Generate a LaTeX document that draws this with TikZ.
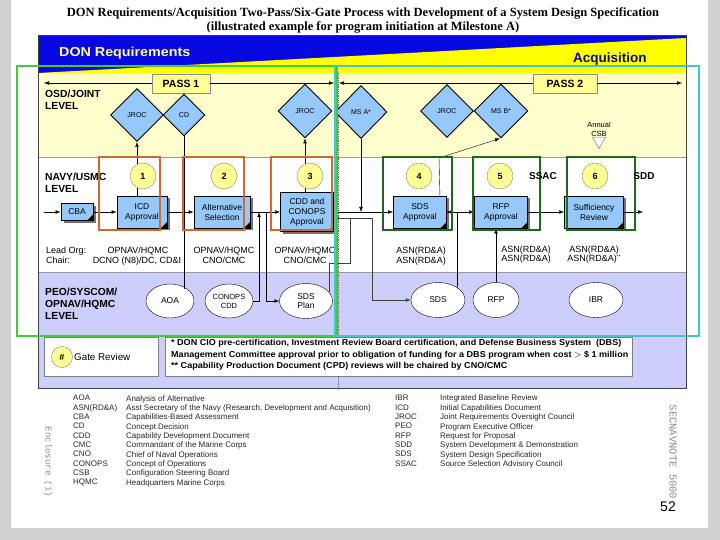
\documentclass[tikz,border=0pt]{standalone}
\usepackage{fontspec}
\setmainfont{Liberation Serif}
\setsansfont{Liberation Sans}
\setmonofont{Liberation Mono}
\usetikzlibrary{shapes.geometric,arrows.meta,shadows,calc}
\definecolor{bannerblue}{RGB}{8,8,225}
\definecolor{banneryellow}{RGB}{255,255,0}
\definecolor{osdyellow}{RGB}{255,255,206}
\definecolor{lav}{RGB}{206,206,250}
\definecolor{dblue}{RGB}{150,200,250}
\definecolor{gyellow}{RGB}{255,255,150}
\definecolor{gorange}{RGB}{205,105,50}
\definecolor{ggreen}{RGB}{30,105,30}
\definecolor{brgreen}{RGB}{60,205,60}
\definecolor{cyanbox}{RGB}{70,195,210}
\definecolor{navytxt}{RGB}{10,10,130}
\definecolor{paleytxt}{RGB}{255,255,150}
\begin{document}
\begin{tikzpicture}[x=1pt,y=-1pt,
  arr/.style={-{Latex[length=5pt,width=3.6pt]}},
  darr/.style={{Latex[length=5pt,width=3.6pt]}-{Latex[length=5pt,width=3.6pt]}},
  lvl/.style={font=\sffamily\bfseries\fontsize{10.3}{12.5}\selectfont, align=left, anchor=north west, inner sep=0pt},
  diam/.style={diamond, aspect=1, draw=black, line width=0.9pt, fill=dblue, inner sep=0pt, font=\sffamily\fontsize{7}{8}\selectfont},
  docbox/.style={rectangle, draw=black, line width=0.9pt, fill=dblue, inner sep=0pt, align=center,
     font=\sffamily\fontsize{8.5}{10}\selectfont,
     drop shadow={shadow xshift=2.5pt, shadow yshift=-2.5pt, fill=black!55, opacity=1},
     path picture={\fill[black] ([xshift=-6pt]path picture bounding box.south east) -- (path picture bounding box.south east) -- ([yshift=6pt]path picture bounding box.south east) -- cycle;}},
  gatec/.style={circle, draw=black!50, fill=gyellow, minimum size=26pt, inner sep=0pt, font=\sffamily\bfseries\fontsize{9}{10}\selectfont},
  ell/.style={ellipse, draw=black, fill=white, inner sep=0pt, align=center, font=\sffamily\fontsize{8.5}{9.5}\selectfont},
  orng/.style={draw=gorange, line width=2pt, inner sep=0pt},
  grn/.style={draw=ggreen, line width=2pt, inner sep=0pt},
  lbl/.style={font=\sffamily\fontsize{9}{10}\selectfont, inner sep=0pt, anchor=base},
  passbox/.style={draw=black!45, fill=gyellow, minimum height=19pt, inner sep=0pt, font=\sffamily\bfseries\fontsize{10.5}{12}\selectfont},
  gloss/.style={font=\sffamily\fontsize{8}{9.35}\selectfont, align=left, anchor=north west, inner sep=0pt, text=black!85}
]
\useasboundingbox (0,0) rectangle (720,540);
% page
\fill[black!18] (0,0) rectangle (720,540);
\fill[white] (11,0) rectangle (708,528);
% title
\node[font=\bfseries\fontsize{12.5}{14}\selectfont, inner sep=0pt] (title1) at (363,13) {DON Requirements/Acquisition Two-Pass/Six-Gate Process with Development of a System Design Specification};
\node[font=\bfseries\fontsize{12.5}{14}\selectfont, inner sep=0pt] (title2) at (363,27) {(illustrated example for program initiation at Milestone A)};
% banner and bands
\fill[bannerblue] (38,36) rectangle (686,73);
\fill[banneryellow] (38,73) -- (686,38) -- (686,73) -- cycle;
\fill[osdyellow] (38,73) rectangle (686,157);
\fill[white] (38,157) rectangle (686,272);
\fill[lav] (38,272) rectangle (686,388);
\draw[black!40] (38,157) -- (686,157);
\draw[black!40] (38,272) -- (686,272);
\draw[densely dotted, black!60, line width=0.8pt] (338,73) -- (338,388);
\node[font=\sffamily\bfseries\fontsize{13}{15}\selectfont, text=paleytxt, anchor=base west, inner sep=0pt, xscale=1.1] (donreq) at (59,57) {DON Requirements};
\node[font=\sffamily\bfseries\fontsize{13.5}{15}\selectfont, text=navytxt, anchor=base west, inner sep=0pt] (acq) at (573,63) {Acquisition};
% pass arrows
\node[passbox, minimum width=58pt] (pass1) at (181,84) {PASS 1};
\node[passbox, minimum width=64pt] (pass2) at (565,84) {PASS 2};
\coordinate (p1l) at (44,83);
\coordinate (p1r) at (334,83);
\coordinate (p2l) at (339,83);
\coordinate (p2r) at (682,83);
\draw[arr] (pass1.west |- p1l) -- (p1l);
\draw[arr] (pass1.east |- p1r) -- (p1r);
\draw[arr] (pass2.west |- p2l) -- (p2l);
\draw[arr] (pass2.east |- p2r) -- (p2r);
% level labels
\node[lvl] (osd) at (45,89.5) {OSD/JOINT\\LEVEL};
\node[lvl] (navy) at (45,172.5) {NAVY/USMC\\LEVEL};
\node[lvl, font=\sffamily\bfseries\fontsize{10.3}{12}\selectfont] (peo) at (45,287.5) {PEO/SYSCOM/\\OPNAV/HQMC\\LEVEL};
% diamonds
\node[diam, minimum width=53pt, minimum height=53pt] (jroc1) at (137,115) {JROC};
\node[diam, minimum width=42pt, minimum height=42pt] (cd) at (184,115) {CD};
\node[diam, minimum width=54pt, minimum height=54pt] (jroc3) at (305,111) {JROC};
\node[diam, minimum width=52pt, minimum height=53pt] (msa) at (361,112) {MS A*};
\node[diam, minimum width=53pt, minimum height=53pt] (jroc4) at (447,111) {JROC};
\node[diam, minimum width=54pt, minimum height=54pt] (msb) at (501,111) {MS B*};
% annual CSB
\node[font=\sffamily\fontsize{7.5}{9}\selectfont, align=center, inner sep=0pt] (csb) at (599,129) {Annual\\CSB};
\node[regular polygon, regular polygon sides=3, shape border rotate=180, draw=black!60, fill=white, minimum size=15pt, inner sep=0pt] (csbtri) at (599,141) {};
% navy level boxes
\node[docbox, minimum width=32pt, minimum height=17pt] (cba) at (77,212) {CBA};
\node[docbox, minimum width=50pt, minimum height=32pt] (icd) at (142,212) {ICD\\Approval};
\node[docbox, minimum width=56pt, minimum height=32pt] (alt) at (222,212) {Alternative\\Selection};
\node[docbox, minimum width=53pt, minimum height=39pt] (cdd) at (307,212) {CDD and\\CONOPS\\Approval};
\node[docbox, minimum width=53pt, minimum height=32pt] (sdsa) at (420,212) {SDS\\Approval};
\node[docbox, minimum width=53pt, minimum height=32pt] (rfpa) at (501,212) {RFP\\Approval};
\node[docbox, minimum width=59pt, minimum height=32pt] (suff) at (594,212) {Sufficiency\\Review};
% PEO level ellipses
\node[ell, minimum width=48pt, minimum height=34pt] (aoa) at (170,301) {AOA};
\node[ell, minimum width=48pt, minimum height=34pt, font=\sffamily\fontsize{7.5}{9}\selectfont] (conops) at (229,301) {CONOPS\\CDD};
\node[ell, minimum width=53pt, minimum height=35pt] (sdsplan) at (306,301) {SDS\\Plan};
\node[ell, minimum width=54pt, minimum height=35pt] (sds) at (438,300) {SDS};
\node[ell, minimum width=46pt, minimum height=35pt] (rfp) at (496,300) {RFP};
\node[ell, minimum width=54pt, minimum height=35pt] (ibr) at (596,300) {IBR};
% connectors
\coordinate (cbain) at (44,212);
\coordinate (sddout) at (643,212);
\coordinate (j259) at (259,212);
\coordinate (j266) at (266,212);
\coordinate (bend4) at (439,158);
\coordinate (fbA) at (372,218);
\coordinate (fbC) at (350,263);
\coordinate (fbD) at (350,218);
\draw[arr] (cbain) -- (cba.west);
\draw[arr] (cba.east) -- (icd.west);
\draw[arr] (icd.east) -- (alt.west);
\draw[arr] (alt.east) -- (cdd.west);
\draw[arr] (cdd.east) -- (sdsa.west);
\draw[arr] (sdsa.east) -- (rfpa.west);
\draw[arr] (rfpa.east) -- (suff.west);
\draw[arr] (suff.east) -- (sddout);
\draw[arr] (msa.south) -- (msa.south |- cdd.east);
\draw[arr] (icd.north -| jroc1.south) -- (jroc1.south);
\draw (cd.south) -- (cd.south |- aoa.north east);
\draw[arr] (cdd.north -| jroc3.south) -- (jroc3.south);
\draw[arr] (conops.east) -| (j259);
\draw[arr] (j266) |- (sdsplan.west);
\draw[arr] ($(sdsa.north east)+(-7,0)$) -- (bend4) -- ($(msb.south)+(-1,0)$);
\draw[arr] (sds.north east) |- (sdsa.east);
\draw[darr, black!75] ([yshift=-6pt]cdd.east) -- (fbA) |- (sds.west);
\draw[black!75] (sdsplan.20) |- (fbC) -- (fbD);
\draw[arr] (rfp.north) -- (rfp.north |- rfpa.south);
% gate circles
\node[gatec] (c1) at (143,176) {1};
\node[gatec] (c2) at (224,176) {2};
\node[gatec] (c3) at (310,176) {3};
\node[gatec] (c4) at (419,176) {4};
\node[gatec] (c5) at (500,176) {5};
\node[gatec] (c6) at (595,176) {6};
% gate outlines
\node[orng, minimum width=61pt, minimum height=73pt] (g1) at (129.5,193.5) {};
\node[orng, minimum width=61pt, minimum height=73pt] (g2) at (213.5,193.5) {};
\node[orng, minimum width=61pt, minimum height=73pt] (g3) at (301.5,193.5) {};
\node[grn, minimum width=69pt, minimum height=73pt] (g4) at (417.5,193.5) {};
\node[grn, minimum width=67pt, minimum height=73pt] (g5) at (506.5,193.5) {};
\node[grn, minimum width=68pt, minimum height=73pt] (g6) at (601,193.5) {};
\node[font=\sffamily\bfseries\fontsize{10}{12}\selectfont, inner sep=0pt] (ssac) at (543,176) {SSAC};
\node[font=\sffamily\bfseries\fontsize{10}{12}\selectfont, inner sep=0pt] (sdd) at (644,176) {SDD};
% org / chair labels
\node[lbl, anchor=base west] (leadorg) at (46,254) {Lead Org:};
\node[lbl, anchor=base west] (chair) at (46,263) {Chair:};
\node[lbl] (o1a) at (138,254) {OPNAV/HQMC};
\node[lbl] (o1b) at (137,263) {DCNO (N8)/DC, CD\&I};
\node[lbl] (o2a) at (224,254) {OPNAV/HQMC};
\node[lbl] (o2b) at (224,263) {CNO/CMC};
\node[lbl] (o3a) at (305,254) {OPNAV/HQMC};
\node[lbl] (o3b) at (305,263) {CNO/CMC};
\node[lbl] (a4a) at (421,254) {ASN(RD\&A)};
\node[lbl] (a4b) at (421,263) {ASN(RD\&A)};
\node[lbl] (a5a) at (526,252) {ASN(RD\&A)};
\node[lbl] (a5b) at (526,261) {ASN(RD\&A)};
\node[lbl] (a6a) at (594,252) {ASN(RD\&A)};
\node[lbl] (a6b) at (594,261) {ASN(RD\&A)\raisebox{2.5pt}{\fontsize{5}{5}\selectfont **}};
% legend
\node[draw=black!50, fill=white, minimum width=114pt, minimum height=39pt, inner sep=0pt] (legbox) at (101,356.5) {};
\node[circle, draw=black!50, fill=gyellow, minimum size=21pt, inner sep=0pt, font=\sffamily\bfseries\fontsize{9}{10}\selectfont] (hash) at (62,357) {\#};
\node[font=\sffamily\fontsize{9.8}{11}\selectfont, anchor=west, inner sep=0pt] (gatereview) at (74,357) {Gate Review};
\node[draw=black!50, fill=white, minimum width=467pt, minimum height=39pt, inner sep=0pt] (notebox) at (398.5,356.5) {};
\node[font=\sffamily\bfseries\fontsize{8.6}{11.3}\selectfont, align=left, anchor=north west, inner sep=0pt, xscale=1.05] (notetxt) at (171,339.5) {* DON CIO pre-certification, Investment Review Board certification, and Defense Business System\ \ (DBS)\\Management Committee approval prior to obligation of funding for a DBS program when cost $>$ \$ 1 million\\** Capability Production Document (CPD) reviews will be chaired by CNO/CMC};
% frame
\draw[black!75, line width=1pt] (38,36) rectangle (686,388);
% glossary
\node[gloss] (gl1) at (73,395) {AOA\\ASN(RD\&A)\\CBA\\CD\\CDD\\CMC\\CNO\\CONOPS\\CSB\\HQMC};
\node[gloss] (gl2) at (126,395) {Analysis of Alternative\\Asst Secretary of the Navy (Research, Development and Acquisition)\\Capabilities-Based Assessment\\Concept Decision\\Capability Development Document\\Commandant of the Marine Corps\\Chief of Naval Operations\\Concept of Operations\\Configuration Steering Board\\Headquarters Marine Corps};
\node[gloss] (gl3) at (395,395) {IBR\\ICD\\JROC\\PEO\\RFP\\SDD\\SDS\\SSAC};
\node[gloss] (gl4) at (440,395) {Integrated Baseline Review\\Initial Capabilities Document\\Joint Requirements Oversight Council\\Program Executive Officer\\Request for Proposal\\System Development \& Demonstration\\System Design Specification\\Source Selection Advisory Council};
\node[font=\ttfamily\fontsize{9}{10}\selectfont, text=black!45, rotate=-90, inner sep=0pt] (encl) at (48,462) {Enclosure (1)};
\node[font=\ttfamily\fontsize{10.5}{11}\selectfont, text=black!45, rotate=-90, inner sep=0pt] (secnav) at (673,452) {SECNAVNOTE 5000};
\node[font=\sffamily\fontsize{14}{16}\selectfont, inner sep=0pt] (pnum) at (668,507) {52};
% overlay outlines
\draw[brgreen, line width=2pt] (17,66) rectangle (337,336);
\draw[cyanbox, line width=1.5pt] (335,66) rectangle (699,336);
\end{tikzpicture}
\end{document}
